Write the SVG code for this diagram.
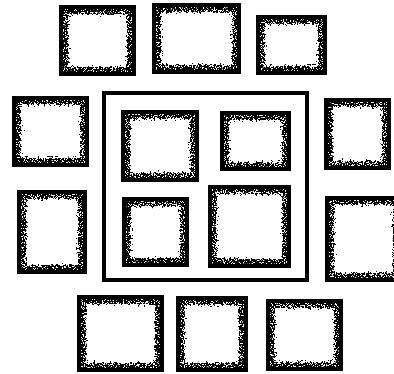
<svg xmlns="http://www.w3.org/2000/svg" width="394" height="374" viewBox="0 0 394 374">
<style>
.o{fill:#000}
.s{fill:#fff;filter:url(#speck)}
.i{fill:#fff;filter:url(#rough)}
.frame{fill:none;stroke:#000;stroke-width:4}
</style>
<defs>
<filter id="speck" x="-5%" y="-5%" width="110%" height="110%">
<feTurbulence type="fractalNoise" baseFrequency="0.9" numOctaves="2" seed="3" result="n"/>
<feColorMatrix in="n" type="matrix" values="0 0 0 0 1  0 0 0 0 1  0 0 0 0 1  0 0 0 -20 8.6" result="m"/>
<feComposite in="m" in2="SourceGraphic" operator="in"/>
</filter>
<filter id="rough" x="-10%" y="-10%" width="120%" height="120%">
<feTurbulence type="fractalNoise" baseFrequency="0.5" numOctaves="3" seed="7" result="t"/>
<feDisplacementMap in="SourceGraphic" in2="t" scale="10" xChannelSelector="R" yChannelSelector="G"/>
</filter>
</defs>
<rect width="394" height="374" fill="#fff"/>
<g id="frame"><rect class="frame" x="104" y="93" width="203" height="187"/></g>
<g id="boxA"><rect class="o" x="59" y="5" width="77" height="71"/><rect class="s" x="63" y="9" width="69" height="63"/><rect class="i" x="68" y="14" width="59" height="53"/></g>
<g id="boxB"><rect class="o" x="152" y="3" width="89" height="71"/><rect class="s" x="156" y="7" width="81" height="63"/><rect class="i" x="161" y="12" width="71" height="53"/></g>
<g id="boxC"><rect class="o" x="256" y="15" width="71" height="60"/><rect class="s" x="260" y="19" width="63" height="52"/><rect class="i" x="265" y="24" width="53" height="42"/></g>
<g id="boxD"><rect class="o" x="12" y="96" width="77" height="71"/><rect class="s" x="16" y="100" width="69" height="63"/><rect class="i" x="21" y="105" width="59" height="53"/></g>
<g id="boxE"><rect class="o" x="121" y="110" width="78" height="72"/><rect class="s" x="125" y="114" width="70" height="64"/><rect class="i" x="130" y="119" width="60" height="54"/></g>
<g id="boxF"><rect class="o" x="220" y="111" width="71" height="60"/><rect class="s" x="224" y="115" width="63" height="52"/><rect class="i" x="229" y="120" width="53" height="42"/></g>
<g id="boxG"><rect class="o" x="324" y="98" width="67" height="72"/><rect class="s" x="328" y="102" width="59" height="64"/><rect class="i" x="333" y="107" width="49" height="54"/></g>
<g id="boxH"><rect class="o" x="17" y="190" width="70" height="84"/><rect class="s" x="21" y="194" width="62" height="76"/><rect class="i" x="26" y="199" width="52" height="66"/></g>
<g id="boxI"><rect class="o" x="122" y="197" width="67" height="70"/><rect class="s" x="126" y="201" width="59" height="62"/><rect class="i" x="131" y="206" width="49" height="52"/></g>
<g id="boxJ"><rect class="o" x="208" y="185" width="83" height="83"/><rect class="s" x="212" y="189" width="75" height="75"/><rect class="i" x="217" y="194" width="65" height="65"/></g>
<g id="boxK"><rect class="o" x="325" y="196" width="77" height="86"/><rect class="s" x="329" y="200" width="69" height="78"/><rect class="i" x="334" y="205" width="59" height="68"/></g>
<g id="boxL"><rect class="o" x="77" y="295" width="87" height="77"/><rect class="s" x="81" y="299" width="79" height="69"/><rect class="i" x="86" y="304" width="69" height="59"/></g>
<g id="boxM"><rect class="o" x="176" y="296" width="72" height="76"/><rect class="s" x="180" y="300" width="64" height="68"/><rect class="i" x="185" y="305" width="54" height="58"/></g>
<g id="boxN"><rect class="o" x="266" y="299" width="77" height="72"/><rect class="s" x="270" y="303" width="69" height="64"/><rect class="i" x="275" y="308" width="59" height="54"/></g>
</svg>
